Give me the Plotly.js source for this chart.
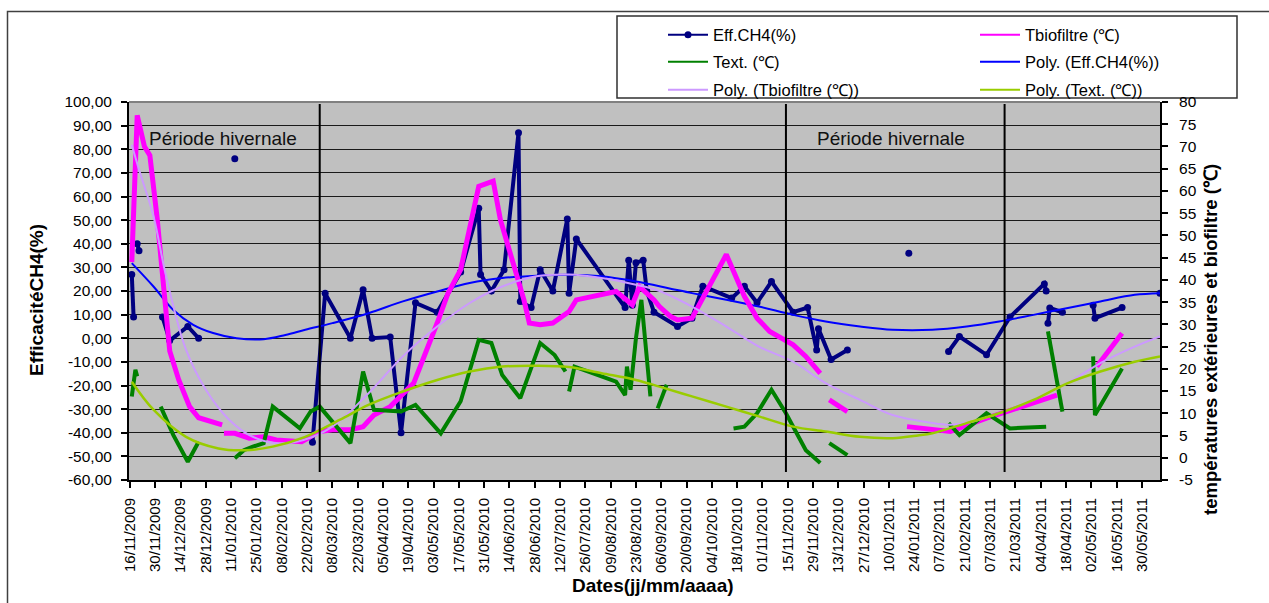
<!DOCTYPE html>
<html><head><meta charset="utf-8">
<script src="https://cdn.plot.ly/plotly-3.0.1.min.js"></script>
<style>html,body{margin:0;padding:0;background:#fff}#chart{width:1269px;height:603px}</style>
</head><body><div id="chart"></div>
<script>
// ---------- DATA ----------
const effDates = ['2009-11-17','2009-11-18','2009-11-19','2009-11-20','2009-11-21','2009-11-25','2009-12-04','2009-12-08','2009-12-18','2009-12-24','2010-01-01','2010-01-13','2010-01-20','2010-02-25','2010-03-04','2010-03-18','2010-03-25','2010-03-30','2010-04-09','2010-04-15','2010-04-23','2010-05-05','2010-05-18','2010-05-28','2010-05-29','2010-06-04','2010-06-11','2010-06-19','2010-06-20','2010-06-26','2010-07-01','2010-07-08','2010-07-16','2010-07-17','2010-07-21','2010-08-17','2010-08-19','2010-08-21','2010-08-23','2010-08-27','2010-08-29','2010-09-02','2010-09-15','2010-09-23','2010-09-29','2010-10-15','2010-10-22','2010-10-29','2010-11-06','2010-11-18','2010-11-26','2010-12-01','2010-12-02','2010-12-09','2010-12-18','2011-01-01','2011-01-21','2011-02-01','2011-02-12','2011-02-18','2011-03-05','2011-03-18','2011-04-06','2011-04-07','2011-04-07','2011-04-08','2011-04-09','2011-04-16','2011-04-25','2011-05-03','2011-05-04','2011-05-19','2011-05-30','2011-06-09'];
const effValues = [27,9,null,40,37,null,9,-1,5,0,null,76,null,-44,19,0,20.5,0,0.5,-40,15,11,28,55,27,20,29,87,15.6,13,29,20,50.5,19,42,13,33,14,32,33,20,11,5,8.5,22,17,22,15,24,11,13,-5,4,-9,-5,null,36,null,-5.6,0.7,-7,9,23,20,null,6.4,12.8,11,null,14,8.5,13,null,19];

const tbioDates = ['2009-11-17','2009-11-20','2009-11-24','2009-11-27','2009-12-01','2009-12-05','2009-12-08','2009-12-13','2009-12-19','2009-12-24','2010-01-06','2010-01-06','2010-01-07','2010-01-13','2010-01-21','2010-01-29','2010-02-05','2010-02-19','2010-03-01','2010-03-08','2010-03-18','2010-03-25','2010-03-31','2010-04-09','2010-04-22','2010-04-28','2010-05-05','2010-05-11','2010-05-18','2010-05-28','2010-06-05','2010-06-09','2010-06-19','2010-06-22','2010-06-25','2010-07-01','2010-07-08','2010-07-17','2010-07-21','2010-08-12','2010-08-21','2010-08-25','2010-09-02','2010-09-05','2010-09-11','2010-09-15','2010-09-23','2010-10-12','2010-10-22','2010-10-29','2010-11-05','2010-11-18','2010-11-25','2010-12-03','2010-12-05','2010-12-08','2010-12-18','2011-01-01','2011-01-20','2011-01-30','2011-02-13','2011-03-05','2011-03-13','2011-04-13','2011-04-25','2011-05-05','2011-05-19'];
const tbioValues = [44,77,70,68,54,38,24,17.5,11.5,9,7.4,null,5.5,5.5,4.4,4.7,4.0,3.6,5.9,6.3,6.3,7.0,9.6,11.5,16.8,22.8,30.3,37,42.3,61,62.2,53.5,39.6,35.5,30.3,29.9,30.3,32.9,35.5,37.4,34.4,38.5,35.5,34,31.8,31,31.4,45.7,36.3,31.4,28.4,25.4,22.8,19,null,13,10.4,null,7,6.6,5.9,8.9,10,14.1,null,20.5,28];

const textDates = ['2009-11-17','2009-11-19','2009-11-20','2009-11-28','2009-12-03','2009-12-10','2009-12-18','2009-12-24','2010-01-01','2010-01-13','2010-01-18','2010-01-23','2010-01-29','2010-02-03','2010-02-18','2010-02-24','2010-03-01','2010-03-18','2010-03-25','2010-03-31','2010-04-15','2010-04-23','2010-05-07','2010-05-18','2010-05-28','2010-06-04','2010-06-10','2010-06-20','2010-07-01','2010-07-09','2010-07-15','2010-07-16','2010-07-17','2010-07-20','2010-08-12','2010-08-17','2010-08-18','2010-08-20','2010-08-23','2010-08-26','2010-08-31','2010-09-02','2010-09-04','2010-09-09','2010-09-20','2010-10-16','2010-10-22','2010-10-29','2010-11-06','2010-11-14','2010-11-25','2010-12-03','2010-12-05','2010-12-08','2010-12-18','2011-01-01','2011-02-12','2011-02-18','2011-03-05','2011-03-18','2011-04-07','2011-04-07','2011-04-08','2011-04-16','2011-04-25','2011-05-03','2011-05-04','2011-05-19'];
const textValues = [13.8,19.8,18.3,null,11.5,5.1,-0.9,3.6,null,-0.1,1.7,2.5,3.3,11.5,6.6,10.4,11.5,3.3,19.4,10.8,10.4,11.9,5.5,12.7,26.5,25.8,18.6,13.4,25.8,23.1,19.4,null,14.9,20.5,17.1,14.1,20.5,15.3,26.9,35.5,13.8,null,11.1,16.4,null,6.6,7,10,15.3,10,1.7,-1.2,null,3.3,0.6,null,7.8,5.1,10,6.6,7.0,null,28.4,10.4,null,22.8,9.6,20.1];

const polyEffDates = ['2009-11-17','2009-11-29','2009-12-10','2009-12-21','2010-01-01','2010-01-14','2010-01-29','2010-02-10','2010-02-21','2010-03-08','2010-03-28','2010-04-16','2010-05-05','2010-05-23','2010-06-10','2010-06-29','2010-07-17','2010-08-04','2010-08-23','2010-09-10','2010-09-23','2010-10-12','2010-10-30','2010-11-18','2010-12-06','2010-12-25','2011-01-12','2011-02-03','2011-02-22','2011-03-12','2011-03-31','2011-04-19','2011-05-07','2011-05-26','2011-06-09'];
const polyEffValues = [31.8,21.9,12,5.7,2.2,0,-0.4,1.4,3.6,6.4,10.6,15.6,19.8,23.4,25.5,26.5,26.9,26.2,24,21.2,19.1,16.3,13.4,9.9,7.1,5.0,3.6,3.6,5.0,7.1,9.9,12.8,15.6,18.4,19.1];

const polyTbioDates = ['2009-11-17','2009-11-21','2009-11-29','2009-12-06','2009-12-17','2009-12-28','2010-01-10','2010-01-23','2010-02-05','2010-02-20','2010-03-08','2010-03-28','2010-04-16','2010-05-05','2010-05-23','2010-06-10','2010-06-29','2010-07-17','2010-08-04','2010-08-23','2010-09-05','2010-09-23','2010-10-12','2010-10-30','2010-11-18','2010-12-06','2010-12-25','2011-01-12','2011-02-03','2011-02-12','2011-02-22','2011-03-12','2011-03-31','2011-04-19','2011-05-07','2011-05-26','2011-06-09'];
const polyTbioValues = [70.4,64.8,54.3,40.8,24.3,15.3,8.5,4.7,3.3,4.0,7.0,14.5,22.8,29.5,34.8,38.5,40.8,41.2,40.4,38.9,37.5,34.0,29.5,25.0,21.6,16.8,13.0,9.6,7.8,7.4,7.8,10.0,13.0,16.8,21.3,25.0,27.3];

const polyTextDates = ['2009-11-17','2009-11-29','2009-12-17','2010-01-04','2010-01-19','2010-02-03','2010-02-21','2010-03-12','2010-03-28','2010-04-16','2010-05-05','2010-05-23','2010-06-10','2010-06-29','2010-07-17','2010-08-04','2010-08-23','2010-09-05','2010-09-23','2010-10-12','2010-10-30','2010-11-18','2010-12-06','2010-12-25','2011-01-12','2011-01-26','2011-02-03','2011-02-22','2011-03-12','2011-03-31','2011-04-19','2011-05-07','2011-05-26','2011-06-09'];
const polyTextValues = [17.1,10.8,4.7,2.1,1.7,2.5,4.7,8.5,11.9,14.9,17.5,19.4,20.5,20.7,20.4,19.0,17.5,16.0,13.8,11.5,9.3,7.0,5.9,4.7,4.4,5.0,5.5,7.8,10.0,13.0,16.8,19.4,21.6,22.8];

const leftTickVals = [-60,-50,-40,-30,-20,-10,0,10,20,30,40,50,60,70,80,90,100];
const leftTickText = ['-60,00','-50,00','-40,00','-30,00','-20,00','-10,00','0,00','10,00','20,00','30,00','40,00','50,00','60,00','70,00','80,00','90,00','100,00'];
const rightTickVals = [-5,0,5,10,15,20,25,30,35,40,45,50,55,60,65,70,75,80];
const rightTickText = ['-5','0','5','10','15','20','25','30','35','40','45','50','55','60','65','70','75','80'];

const periodBoundaries = ['2010-03-01','2010-11-14','2011-03-15'];
const seriesNames = ['Eff.CH4(%)','Tbiofiltre (\u2103)','Text. (\u2103)','Poly. (Eff.CH4(%))','Poly. (Tbiofiltre (\u2103))','Poly. (Text. (\u2103))'];
const seriesColors = ['#000080','#FF00FF','#008000','#0000FF','#CC99FF','#99CC00'];

// ---------- CHART ----------
const FONT = 'Liberation Sans, Arial, sans-serif';
const traces = [
  {x: effDates, y: effValues, name: seriesNames[0], type: 'scatter', mode: 'lines+markers', yaxis: 'y', showlegend: false,
   line: {color: seriesColors[0], width: 4}, marker: {color: seriesColors[0], size: 7}},
  {x: tbioDates, y: tbioValues, name: seriesNames[1], type: 'scatter', mode: 'lines', yaxis: 'y2', showlegend: false,
   line: {color: seriesColors[1], width: 5}},
  {x: textDates, y: textValues, name: seriesNames[2], type: 'scatter', mode: 'lines', yaxis: 'y2', showlegend: false,
   line: {color: seriesColors[2], width: 4}},
  {x: polyEffDates, y: polyEffValues, name: seriesNames[3], type: 'scatter', mode: 'lines', yaxis: 'y', showlegend: false,
   line: {color: seriesColors[3], width: 2, shape: 'spline'}},
  {x: polyTbioDates, y: polyTbioValues, name: seriesNames[4], type: 'scatter', mode: 'lines', yaxis: 'y2', showlegend: false,
   line: {color: seriesColors[4], width: 2, shape: 'spline'}},
  {x: polyTextDates, y: polyTextValues, name: seriesNames[5], type: 'scatter', mode: 'lines', yaxis: 'y2', showlegend: false,
   line: {color: seriesColors[5], width: 2.5, shape: 'spline'}}
];
// legend entries (thin keys, as in the original legend)
const legendIds = ['legend','legend2','legend3','legend4','legend5','legend6'];
seriesNames.forEach((nm, i) => traces.push({
  x: [null], y: [null], name: nm, type: 'scatter', mode: i === 0 ? 'lines+markers' : 'lines',
  line: {color: seriesColors[i], width: 2}, marker: {color: seriesColors[i], size: 7},
  legend: legendIds[i], showlegend: true, hoverinfo: 'skip'
}));

function leg(px, py) {
  return {x: px / 1269, y: 1 - py / 603, xref: 'container', yref: 'container', xanchor: 'left', yanchor: 'middle',
    bgcolor: 'rgba(0,0,0,0)', borderwidth: 0, itemwidth: 40, font: {family: FONT, size: 16.5, color: '#000'}};
}

const shapes = [
  {type: 'rect', xref: 'paper', yref: 'paper', x0: (7.5-129)/1031, x1: 1.2, y0: -0.6, y1: (480-11.5)/378,
   line: {color: '#404040', width: 1.5}, fillcolor: 'rgba(0,0,0,0)', layer: 'below'},
  {type: 'rect', xref: 'paper', yref: 'paper', x0: (617-129)/1031, x1: (1237-129)/1031, y0: (480-98)/378, y1: (480-16)/378,
   line: {color: '#303030', width: 1.5}, fillcolor: '#ffffff', layer: 'below'},
  {type: 'line', xref: 'paper', yref: 'paper', x0: 0, x1: 1, y0: 1, y1: 1, line: {color: '#808080', width: 2}}
];
periodBoundaries.forEach(d => shapes.push({type: 'line', xref: 'x', yref: 'paper', x0: d, x1: d, y0: 0.021, y1: 0.995,
  line: {color: '#000', width: 2}}));

const annotations = [
  {text: 'Période hivernale', xref: 'paper', yref: 'paper', x: (147-129)/1031, y: (480-138)/378, xanchor: 'left', yanchor: 'middle',
   showarrow: false, font: {family: FONT, size: 19, color: '#111'}},
  {text: 'Période hivernale', xref: 'paper', yref: 'paper', x: (815-129)/1031, y: (480-138)/378, xanchor: 'left', yanchor: 'middle',
   showarrow: false, font: {family: FONT, size: 19, color: '#111'}},
  {text: '<b>EfficacitéCH4(%)</b>', xref: 'paper', yref: 'paper', x: (36-129)/1031, y: (480-300)/378, xanchor: 'center', yanchor: 'middle',
   textangle: -90, showarrow: false, font: {family: FONT, size: 19, color: '#000'}},
  {text: '<b>températures extérieures et biofiltre (\u2103)</b>', xref: 'paper', yref: 'paper', x: (1210-129)/1031, y: (480-340)/378,
   xanchor: 'center', yanchor: 'middle', textangle: -90, showarrow: false, font: {family: FONT, size: 18.5, color: '#000'}},
  {text: '<b>Dates(jj/mm/aaaa)</b>', xref: 'paper', yref: 'paper', x: (653-129)/1031, y: (480-585)/378, xanchor: 'center', yanchor: 'middle',
   showarrow: false, font: {family: FONT, size: 19, color: '#000'}}
];

const layout = {
  width: 1269, height: 603,
  margin: {l: 129, r: 109, t: 102, b: 123, autoexpand: false},
  paper_bgcolor: '#ffffff', plot_bgcolor: '#C0C0C0',
  font: {family: FONT, size: 15, color: '#000'},
  showlegend: true,
  xaxis: {type: 'date', range: ['2009-11-15 11:00', '2011-06-09'], tick0: '2009-11-16', dtick: 14*86400000,
    tickformat: '%d/%m/%Y', tickangle: -90, ticks: 'outside', ticklen: 6, tickwidth: 1.5, tickcolor: '#000',
    showline: true, linecolor: '#000', linewidth: 2, showgrid: false, zeroline: false, automargin: false,
    tickfont: {family: FONT, size: 15, color: '#000'}, ticklabelstandoff: 4},
  yaxis: {range: [-60, 100], tickmode: 'array', tickvals: leftTickVals, ticktext: leftTickText,
    ticks: 'outside', ticklen: 6, tickwidth: 1.5, tickcolor: '#000', showline: true, linecolor: '#000', linewidth: 2,
    showgrid: true, gridcolor: '#1a1a1a', gridwidth: 1, zeroline: false, automargin: false,
    tickfont: {family: FONT, size: 15.5, color: '#000'}, ticklabelstandoff: 6},
  yaxis2: {range: [-5, 80], overlaying: 'y', side: 'right', tickmode: 'array', tickvals: rightTickVals, ticktext: rightTickText,
    ticks: 'outside', ticklen: 6, tickwidth: 1.5, tickcolor: '#000', showline: true, linecolor: '#000', linewidth: 2,
    showgrid: false, zeroline: false, automargin: false,
    tickfont: {family: FONT, size: 15.5, color: '#000'}, ticklabelstandoff: 8},
  legend: leg(663, 35), legend2: leg(975, 35),
  legend3: leg(663, 62), legend4: leg(975, 62),
  legend5: leg(663, 90), legend6: leg(975, 90),
  shapes: shapes,
  annotations: annotations
};

Plotly.newPlot('chart', traces, layout, {displayModeBar: false, responsive: false});
</script>
</body></html>
